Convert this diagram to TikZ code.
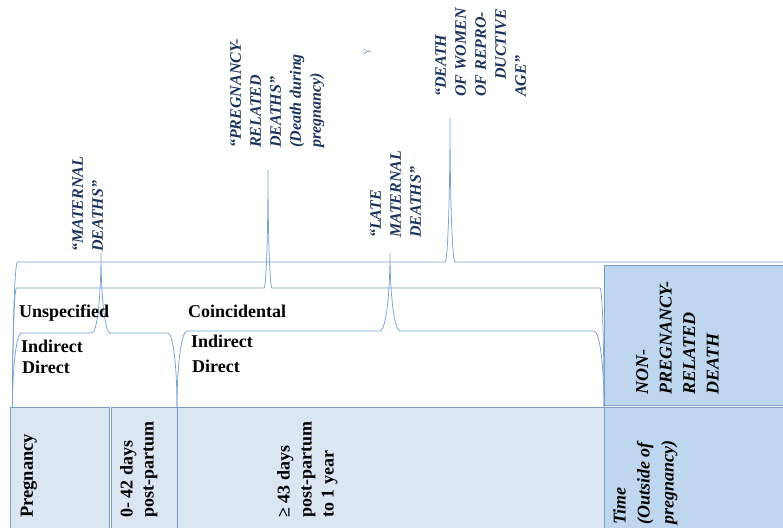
\documentclass[tikz,border=0pt]{standalone}
\usepackage{fontspec}
\setmainfont{Liberation Serif}
\definecolor{brc}{RGB}{120,162,210}
\definecolor{navy}{RGB}{28,52,92}
\definecolor{boxl}{RGB}{220,230,242}
\definecolor{boxd}{RGB}{190,215,238}
\definecolor{boxe}{RGB}{125,155,195}
\newcommand{\wbrace}[6]{%
\draw[brl] (#1,407) .. controls (#1,{407-0.5523*(407-#4)}) and ({#1+0.4477*#6},#4) .. ({#1+#6},#4)
 -- ({#3-#6},#4) .. controls ({#3-0.4477*#6},#4) and (#3,{#5+0.5523*(#4-#5)}) .. (#3,#5)
 .. controls (#3,{#5+0.5523*(#4-#5)}) and ({#3+0.4477*#6},#4) .. ({#3+#6},#4)
 -- ({#2-#6},#4) .. controls ({#2-0.4477*#6},#4) and (#2,{407-0.5523*(407-#4)}) .. (#2,407);}
\begin{document}
\begin{tikzpicture}[x=1pt,y=-1pt,
  brl/.style={draw=brc,line width=0.75pt},
  lightbox/.style={fill=boxl,draw=boxe,line width=0.75pt},
  darkbox/.style={fill=boxd,draw=boxe,line width=0.75pt},
  lab/.style={rotate=90,anchor=north west,inner sep=0pt,align=left,text=navy,
    font=\fontsize{16}{20}\selectfont\bfseries\itshape},
  vtxt/.style={rotate=90,anchor=north west,inner sep=0pt,align=left,
    font=\fontsize{18}{22}\selectfont\bfseries},
  vit/.style={rotate=90,anchor=north west,inner sep=0pt,align=left,
    font=\fontsize{18}{23.5}\selectfont\bfseries\itshape},
  htxt/.style={anchor=base west,inner sep=0pt,font=\fontsize{18}{22}\selectfont\bfseries}]
\useasboundingbox (0,0) rectangle (783,527);
% boxes
\path[lightbox] (10,407) rectangle (109,535);
\path[lightbox] (111,407) rectangle (177,535);
\path[lightbox] (177,407) rectangle (604,535);
\path[darkbox] (604,407) rectangle (795,535);
\path[darkbox] (604,265) rectangle (795,405);
% braces
\wbrace{12.5}{800}{450}{262}{118}{5}
\wbrace{12.5}{604}{268}{288}{170}{4}
\wbrace{12.5}{177}{101}{333}{253}{9}
\wbrace{177}{604}{390}{331}{253}{10}
% labels
\node[lab] (mat) at (72,252) {“MATERNAL\\DEATHS”};
\node[lab] (preg) at (230,148) {“PREGNANCY-\\RELATED\\DEATHS”\\(Death during\\pregnancy)};
\node[lab] (late) at (370,238) {“LATE\\MATERNAL\\DEATHS”};
\node[lab] (women) at (435,97) {“DEATH\\OF WOMEN\\OF REPRO-\\\hspace*{17pt}DUCTIVE\\AGE”};
\node[rotate=90,inner sep=0pt,text=brc!85!gray,font=\fontsize{10}{10}\selectfont] (ymark) at (367,52) {Y};
% horizontal texts
\node[htxt] (uns) at (19,317) {Unspecified};
\node[htxt] (coin) at (188,317) {Coincidental};
\node[htxt] (ind1) at (21,352) {Indirect};
\node[htxt] (dir1) at (22,373) {Direct};
\node[htxt] (ind2) at (191,347) {Indirect};
\node[htxt] (dir2) at (192,372) {Direct};
% right boxes
\node[vit] (npr) at (636,395) {NON-\\PREGNANCY-\\RELATED\\DEATH};
\node[vit,font=\fontsize{18}{24}\selectfont\bfseries\itshape] (time) at (613,525) {Time\\(Outside of\\pregnancy)};
% bottom row
\node[vtxt,font=\fontsize{18.5}{22}\selectfont\bfseries] (pg) at (20.5,518) {Pregnancy};
\node[vtxt,font=\fontsize{18}{21}\selectfont\bfseries] (d42) at (120,518) {0- 42 days\\post-partum};
\node[vtxt] (d43) at (277,518) {≥ 43 days\\post-partum\\to 1 year};
\end{tikzpicture}
\end{document}
